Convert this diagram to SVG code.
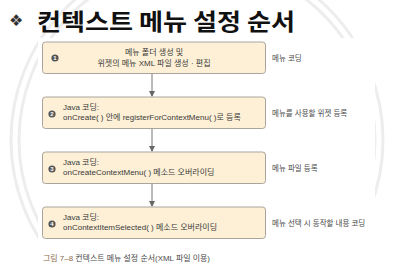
<svg xmlns="http://www.w3.org/2000/svg" width="393" height="263" viewBox="0 0 393 263">
<defs>
<style>
.bg{fill:none;stroke:#ededed;stroke-width:3}
.box{fill:#fdf0d6;stroke:#a9a49c;stroke-width:1}
.t{font-family:"Liberation Sans","Noto Sans CJK KR",sans-serif;font-size:8px;fill:#3a3a3a}
.lbl{font-family:"Liberation Sans","Noto Sans CJK KR",sans-serif;font-size:7.5px;fill:#4a4a4a}
.num{fill:#555}
.numt{font-family:"Liberation Sans",sans-serif;font-size:6px;font-weight:bold;fill:#fff;text-anchor:middle}
.conn{stroke:#777;stroke-width:1;fill:none}
</style>
<marker id="ah" markerWidth="6" markerHeight="6" refX="5" refY="3" orient="auto" markerUnits="userSpaceOnUse">
<path d="M0,0 L6,3 L0,6 z" fill="#666"/>
</marker>
</defs>
<rect width="393" height="263" fill="#fff"/>
<circle class="bg" cx="197" cy="140" r="186"/>
<circle class="bg" cx="197" cy="140" r="178"/>
<rect x="38" y="38" width="337" height="225" fill="#fff"/>
<g id="title">
<text x="9" y="26" font-family="DejaVu Sans,sans-serif" font-size="16" fill="#333">❖</text>
<text x="37" y="30" font-family="'Noto Sans CJK KR',sans-serif" font-size="23" font-weight="bold" fill="#111" textLength="258" lengthAdjust="spacingAndGlyphs">컨텍스트 메뉴 설정 순서</text>
</g>
<g id="connectors">
<line class="conn" x1="152" y1="74" x2="152" y2="96" marker-end="url(#ah)"/>
<line class="conn" x1="152" y1="129" x2="152" y2="151" marker-end="url(#ah)"/>
<line class="conn" x1="152" y1="184" x2="152" y2="206" marker-end="url(#ah)"/>
</g>
<g id="step1">
<rect class="box" x="42.5" y="42" width="223" height="31.5" rx="3"/>
<circle class="num" cx="55" cy="58" r="3.6"/>
<text class="numt" x="55" y="60.2">1</text>
<text class="t" x="154" y="55" text-anchor="middle">메뉴 폴더 생성 및</text>
<text class="t" x="154" y="66" text-anchor="middle">위젯의 메뉴 XML 파일 생성 · 편집</text>
<text class="lbl" x="272" y="60.5">메뉴 코딩</text>
</g>
<g id="step2">
<rect class="box" x="42.5" y="97" width="223" height="31.5" rx="3"/>
<circle class="num" cx="52" cy="114" r="3.6"/>
<text class="numt" x="52" y="116.2">2</text>
<text class="t" x="63" y="110">Java 코딩:</text>
<text class="t" x="63" y="120">onCreate( ) 안에 registerForContextMenu( )로 등록</text>
<text class="lbl" x="272" y="115.5">메뉴를 사용할 위젯 등록</text>
</g>
<g id="step3">
<rect class="box" x="42.5" y="152" width="223" height="31.5" rx="3"/>
<circle class="num" cx="52" cy="169" r="3.6"/>
<text class="numt" x="52" y="171.2">3</text>
<text class="t" x="63" y="165">Java 코딩:</text>
<text class="t" x="63" y="175">onCreateContextMenu( ) 메소드 오버라이딩</text>
<text class="lbl" x="272" y="170.5">메뉴 파일 등록</text>
</g>
<g id="step4">
<rect class="box" x="42.5" y="207" width="223" height="31.5" rx="3"/>
<circle class="num" cx="52" cy="224" r="3.6"/>
<text class="numt" x="52" y="226.2">4</text>
<text class="t" x="63" y="220">Java 코딩:</text>
<text class="t" x="63" y="230">onContextItemSelected( ) 메소드 오버라이딩</text>
<text class="lbl" x="272" y="225.5">메뉴 선택 시 동작할 내용 코딩</text>
</g>
<g id="caption">
<text class="lbl" x="43" y="260.5" font-size="7.5" textLength="167" lengthAdjust="spacingAndGlyphs"><tspan fill="#8a6a4a">그림 7–8</tspan> 컨텍스트 메뉴 설정 순서(XML 파일 이용)</text>
</g>
</svg>
